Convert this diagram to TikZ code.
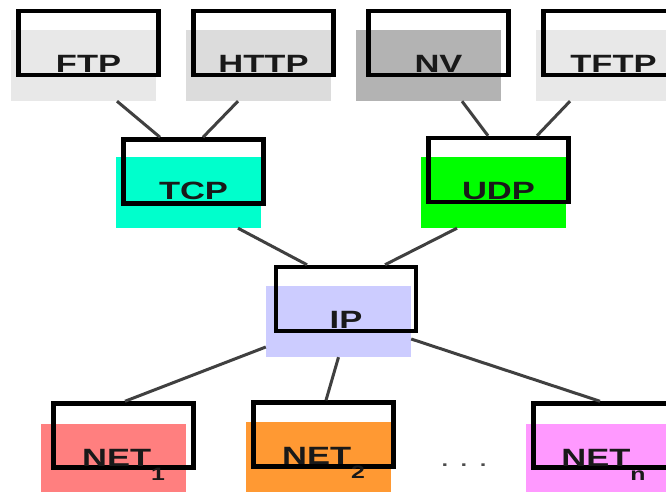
\documentclass[tikz,border=0pt]{standalone}
\usepackage{fontspec}
\usepackage{tikz}
\newfontfamily\protofont[FakeStretch=1.38]{Liberation Sans}
\newcommand{\netsub}[1]{\raisebox{-14pt}{\fontsize{18}{18}\selectfont #1}}

\definecolor{ftpgray}{RGB}{232,232,232}
\definecolor{httpgray}{RGB}{220,220,220}
\definecolor{nvgray}{RGB}{179,179,179}
\definecolor{tcpcyan}{RGB}{0,255,204}
\definecolor{udpgreen}{RGB}{0,255,0}
\definecolor{iplilac}{RGB}{204,204,255}
\definecolor{netred}{RGB}{255,127,127}
\definecolor{netorange}{RGB}{255,153,51}
\definecolor{netpink}{RGB}{255,153,255}
\definecolor{linkgray}{RGB}{64,64,64}

\begin{document}
\begin{tikzpicture}[x=1pt,y=-1pt,node distance=175pt]
	\tikzstyle{colbox}=[inner sep=0pt,minimum width=145pt,minimum height=71pt]
	\tikzstyle{rimbox}=[draw=black,line width=4.5pt,inner sep=0pt,minimum width=140pt,minimum height=64pt]
	\tikzstyle{proto}=[anchor=base,yshift=-7pt,inner sep=0pt,text=black!90,font=\protofont\bfseries\fontsize{25}{30}\selectfont]
	\tikzstyle{link}=[draw=linkgray,line width=3pt]
	
	\useasboundingbox (0,0) rectangle (666,492);
	\clip (0,0) rectangle (666,492);
	
	\node[colbox,fill=ftpgray] (FTPf) at (83.5,65.5) {};
	\node[colbox,fill=httpgray] (HTTPf) [right of=FTPf] {};
	\node[colbox,fill=nvgray] (NVf) [right of=HTTPf,xshift=-5pt] {};
	\node[colbox,fill=ftpgray] (TFTPf) [right of=HTTPf,node distance=350pt] {};
	\node[colbox,fill=tcpcyan] (TCPf) at (188.5,192.5) {};
	\node[colbox,fill=udpgreen] (UDPf) at (493.5,192.5) {};
	\node[colbox,fill=iplilac] (IPf) at (338.5,321.5) {};
	\node[colbox,fill=netred] (N1f) at (113.5,459) {};
	\node[colbox,fill=netorange] (N2f) at (318.5,457) {};
	\node[colbox,fill=netpink] (Nnf) at (598.5,459) {};
	
	\node[rimbox] (FTP) at ([shift={(5,-22.5)}]FTPf) {};
	\node[rimbox] (HTTP) at ([shift={(5,-22.5)}]HTTPf) {};
	\node[rimbox] (NV) at ([shift={(10,-22.5)}]NVf) {};
	\node[rimbox] (TFTP) at ([shift={(5,-22.5)}]TFTPf) {};
	\node[rimbox] (TCP) at ([shift={(5,-21)}]TCPf) {};
	\node[rimbox] (UDP) at ([shift={(5,-22.5)}]UDPf) {};
	\node[rimbox] (IP) at ([shift={(7.5,-22.5)}]IPf) {};
	\node[rimbox] (N1) at ([shift={(10,-23.5)}]N1f) {};
	\node[rimbox] (N2) at ([shift={(5,-22.5)}]N2f) {};
	\node[rimbox] (Nn) at ([shift={(5,-23.5)}]Nnf) {};
	
	\node[proto] (FTPt) at (FTP |- FTPf) {FTP};
	\node[proto] (HTTPt) at (HTTP |- HTTPf) {HTTP};
	\node[proto] (NVt) at (NV |- NVf) {NV};
	\node[proto] (TFTPt) at (TFTP |- TFTPf) {TFTP};
	\node[proto] (TCPt) at (TCP |- TCPf) {TCP};
	\node[proto] (UDPt) at (UDP |- UDPf) {UDP};
	\node[proto] (IPt) at (IP |- IPf) {IP};
	\node[proto] (N1t) at (N1 |- N1f) {NET\netsub{1}};
	\node[proto] (N2t) at (N2 |- N2f) {NET\netsub{2}};
	\node[proto] (Nnt) at (Nn |- Nnf) {NET\netsub{n}};
	\node[proto,yshift=0pt,text=black!70,font=\protofont\fontsize{25}{30}\selectfont] (dots) at (464,459) {.\ .\ .};
	
	\draw[link] ([xshift=33.5pt]FTPf.south) -- ([xshift=-33.5pt]TCP.north)
		([xshift=-20.5pt]HTTPf.south) -- ([xshift=9.5pt]TCP.north)
		([xshift=33.5pt]NVf.south) -- ([xshift=-10.5pt]UDP.north)
		([xshift=-38.5pt]TFTPf.south) -- ([xshift=38.5pt]UDP.north)
		([xshift=49.5pt]TCPf.south) -- ([xshift=-39pt]IP.north)
		([xshift=-36.5pt]UDPf.south) -- ([xshift=39pt]IP.north)
		([yshift=-25.5pt]IPf.west) -- ([xshift=1.5pt]N1.north)
		(IPf.south) -- ([xshift=2.5pt]N2.north)
		([yshift=-17.5pt]IPf.east) -- ([xshift=-3.5pt]Nn.north);
\end{tikzpicture}
\end{document}
